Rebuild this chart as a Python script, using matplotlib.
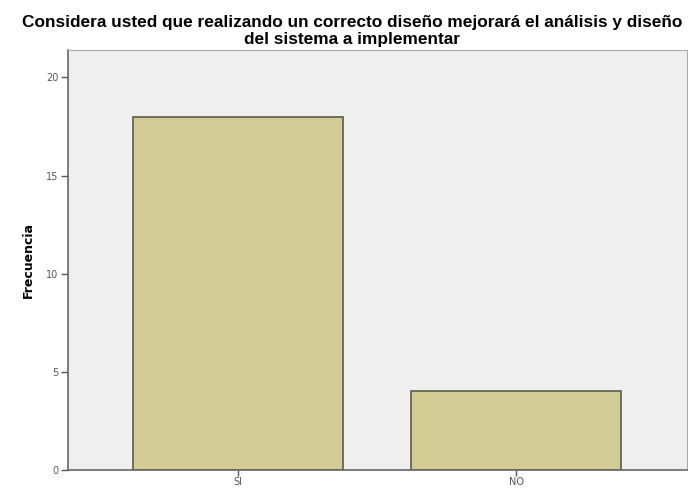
import matplotlib.pyplot as plt

# datos
categorias = ['SI', 'NO']
frecuencias = [18, 4]
ticks_y = [0, 5, 10, 15, 20]

fig = plt.figure(figsize=(6.88, 4.88), dpi=100)
ax = fig.add_axes([68 / 688, 18 / 488, 619 / 688, 420 / 488])
ax.set_facecolor('#efefef')

x = list(range(len(categorias)))
ax.bar(x, frecuencias, width=0.755, color='#d3cd95',
       edgecolor='#5a5a4a', linewidth=1.2, zorder=2)

ax.set_xlim(-0.612, 1.615)
ax.set_ylim(0, 21.4)
ax.set_yticks(ticks_y)
ax.set_yticklabels([str(t) for t in ticks_y], fontsize=7, color='#555555')
ax.set_xticks(x)
ax.set_xticklabels(categorias, fontsize=7, color='#555555')
ax.tick_params(axis='both', length=5, width=1, color='#555555', pad=2)
ax.tick_params(axis='x', length=4, pad=1)

for s in ['left', 'bottom']:
    ax.spines[s].set_color('#666666')
    ax.spines[s].set_linewidth(1.2)
for s in ['top', 'right']:
    ax.spines[s].set_color('#aaaaaa')
    ax.spines[s].set_linewidth(0.8)

ax.set_ylabel('Frecuencia', fontsize=9, fontweight='bold', labelpad=8)

fig.text(352 / 688, 1 - 31 / 488,
         'Considera usted que realizando un correcto diseño mejorará el análisis y diseño\n'
         'del sistema a implementar',
         ha='center', va='center', fontsize=12.4, fontweight='bold',
         linespacing=1.1, family='Liberation Sans')

fig.savefig('out.png', dpi=100)
